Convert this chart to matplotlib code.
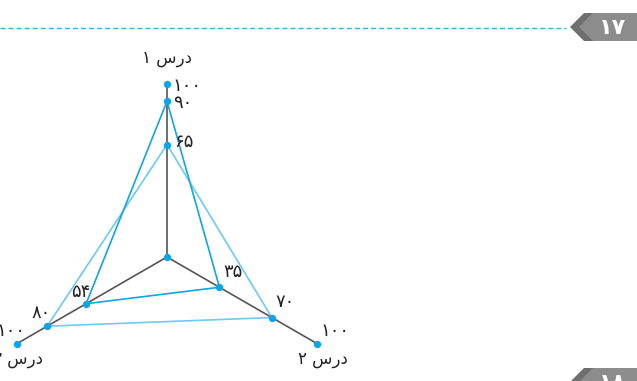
import numpy as np
import matplotlib
matplotlib.use("Agg")
import matplotlib.pyplot as plt
from matplotlib.patches import Polygon

plt.rcParams['font.family'] = ['DejaVu Sans']

# -------------------- data --------------------
axis_labels = ["۱ سرد", "۲ سرد", "۳ سرد"]        # "درس ۱" ... drawn LTR
axis_angles = [90, -30, 210]                        # degrees
max_value = 100
series_dark = [90, 35, 54]
series_light = [65, 70, 80]
dark_labels = ["۹۰", "۳۵", "۵۴"]
light_labels = ["۶۵", "۷۰", "۸۰"]
max_label = "۱۰۰"
badge_top = "۱۷"
badge_bottom = "۱۸"

COL_DARK = "#14a3e3"
COL_LIGHT = "#6ccbf0"
COL_DOT = "#0ba5e8"
COL_AXIS = "#555555"

W, H = 637, 381
CX, CY = 167, 257          # centre of the radar, in pixels
R_PX = 173                 # pixels for the full value


def xy(values):
    th = np.radians(axis_angles)
    v = np.asarray(values, dtype=float)
    return v * np.cos(th), v * np.sin(th)


fig = plt.figure(figsize=(W / 100, H / 100), dpi=100)

# radar axes: 1 data unit = R_PX/100 pixels both ways
ax = fig.add_axes([0, 0, 1, 1])
s = max_value / R_PX
ax.set_xlim(-CX * s, (W - CX) * s)
ax.set_ylim(-(H - CY) * s, CY * s)
ax.axis("off")

# axes lines
mx, my = xy([max_value] * 3)
for x, y in zip(mx, my):
    ax.plot([0, x], [0, y], color=COL_AXIS, lw=1.2, zorder=1, solid_capstyle="butt")

# series polygons
for vals, col in [(series_light, COL_LIGHT), (series_dark, COL_DARK)]:
    x, y = xy(vals)
    ax.plot(np.append(x, x[0]), np.append(y, y[0]), color=col, lw=1.2, zorder=2)
    ax.scatter(x, y, s=28, color=COL_DOT, zorder=4, linewidths=0)

ax.scatter(mx, my, s=28, color=COL_DOT, zorder=4, linewidths=0)
ax.scatter([0], [0], s=28, color=COL_DOT, zorder=4, linewidths=0)

fs = 13


def lab(x, y, text, dx, dy, size=fs):
    # dx, dy in pixels (right, down)
    ax.annotate(text, (x, y), xytext=(dx * 0.72, -dy * 0.72), textcoords="offset points",
                ha="center", va="center", fontsize=size, color="#222222")


# max values
lab(mx[0], my[0], max_label, 20, 2)
lab(mx[1], my[1], max_label, 18, -12)
lab(mx[2], my[2], max_label, -6, -12)
# axis titles
lab(mx[0], my[0], axis_labels[0], 0, -26, size=12)
lab(mx[1], my[1], axis_labels[1], 6, 15, size=12)
lab(mx[2], my[2], axis_labels[2], 1, 16, size=12)

dx_, dy_ = xy(series_dark)
lab(dx_[0], dy_[0], dark_labels[0], 16, 2)
lab(dx_[1], dy_[1], dark_labels[1], 14, -15)
lab(dx_[2], dy_[2], dark_labels[2], -5, -12)
lx_, ly_ = xy(series_light)
lab(lx_[0], ly_[0], light_labels[0], 17, -3)
lab(lx_[1], ly_[1], light_labels[1], 13, -16)
lab(lx_[2], ly_[2], light_labels[2], -6, -13)

# header decorations in pixel coordinates
ov = fig.add_axes([0, 0, 1, 1], zorder=5)
ov.set_xlim(0, W)
ov.set_ylim(H, 0)
ov.axis("off")
ov.patch.set_alpha(0)

ov.plot([0, 566], [28, 28], color="#2bb4e6", lw=1.0, dashes=(3.6, 2.2))


def badge(ytop, text):
    h = 28
    ym = ytop + h / 2
    ov.add_patch(Polygon([(570, ym), (584, ytop), (W + 2, ytop), (W + 2, ytop + h), (584, ytop + h)],
                         closed=True, facecolor="#6f6f6f", edgecolor="none"))
    ov.add_patch(Polygon([(579, ym), (593, ytop), (W + 2, ytop), (W + 2, ytop + h), (593, ytop + h)],
                         closed=True, facecolor="#8c8c8c", edgecolor="none"))
    ov.text(613, ym + 1, text, ha="center", va="center", color="white",
            fontsize=16, fontweight="bold")


badge(13, badge_top)
badge(368, badge_bottom)

fig.savefig("out.png", dpi=100)
